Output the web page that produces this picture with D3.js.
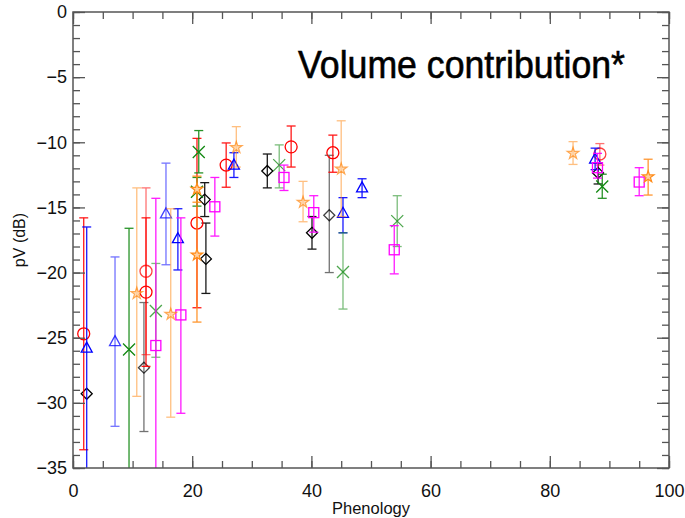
<!DOCTYPE html>
<html><head><meta charset="utf-8">
<script src="https://cdn.jsdelivr.net/npm/d3@7"></script>
<style>body{margin:0;background:#fff}svg{display:block}</style>
</head><body>
<svg id="chart" width="685" height="518"></svg>
<script>
// ---- data ----
const xDomain = [0, 100];
const yDomain = [-35, 0];
const xTicks = [0, 20, 40, 60, 80, 100];
const yTicks = [0, -5, -10, -15, -20, -25, -30, -35];
const titleText = "Volume contribution*";
const xLabel = "Phenology";
const yLabel = "pV (dB)";

// red circles
const redX  = [1.8, 12.25, 12.25, 20.8, 25.7, 36.6, 43.6, 88.4];
const redY  = [-24.7, -19.9, -21.5, -16.2, -11.75, -10.35, -10.8, -10.9];
const redLo = [-33.6, -26.3, -27.2, -22.7, -13.45, -11.9, -12.3, -11.75];
const redHi = [-15.8, -13.5, -15.8, -9.7, -10.05, -8.75, -9.45, -10.1];
const redG  = [1, 2, 1, 1, 1, 1, 1, 2];
// blue triangles
const blueX  = [2.3, 7.05, 15.6, 17.6, 27.0, 45.3, 48.5, 87.6];
const blueY  = [-25.8, -25.3, -15.5, -17.4, -11.75, -15.45, -13.5, -11.3];
const blueLo = [-40, -31.8, -19.4, -19.8, -12.7, -16.95, -14.25, -12.1];
const blueHi = [-16.5, -18.8, -11.6, -15.1, -10.8, -14.25, -12.8, -10.45];
const blueG  = [1, 2, 2, 1, 1, 1, 1, 1];
// green crosses
const greenX  = [9.4, 13.9, 21.1, 20.8, 34.6, 45.3, 54.4, 88.8];
const greenY  = [-25.9, -22.95, -10.75, -13.8, -11.75, -19.95, -16.05, -13.4];
const greenLo = [-40, -26.5, -12.35, -14.9, -13.5, -22.8, -18.0, -14.3];
const greenHi = [-16.6, -19.3, -9.1, -12.7, -10.2, -16.95, -14.1, -12.45];
const greenG  = [1, 2, 1, 1, 2, 2, 2, 1];
// black diamonds
const blackX  = [2.3, 11.9, 22.1, 22.3, 32.6, 40.1, 43.0, 88.1];
const blackY  = [-29.3, -27.3, -14.4, -18.95, -12.2, -16.95, -15.6, -12.35];
const blackLo = [-29.3, -32.2, -15.7, -21.6, -13.5, -18.2, -20.0, -13.2];
const blackHi = [-29.3, -22.3, -13.1, -16.2, -10.9, -15.7, -11.0, -11.6];
const blackG  = [1, 2, 1, 1, 1, 1, 2, 1];
// magenta squares
const magX  = [13.9, 18.1, 23.8, 35.4, 40.4, 53.9, 88.0, 95.0];
const magY  = [-25.6, -23.25, -14.95, -12.7, -15.4, -18.25, -11.95, -13.05];
const magLo = [-40, -30.8, -17.2, -13.7, -16.9, -20.1, -12.75, -14.1];
const magHi = [-14.3, -15.8, -12.7, -11.75, -14.1, -16.4, -10.85, -11.95];
const magG  = [1, 1, 1, 1, 1, 1, 1, 1];
// orange stars
const orX  = [10.7, 16.4, 20.8, 20.8, 27.4, 38.6, 45.0, 83.9, 96.5];
const orY  = [-21.6, -23.2, -13.6, -18.65, -10.4, -14.6, -12.05, -10.85, -12.65];
const orLo = [-29.5, -31.1, -14.6, -23.8, -11.9, -16.1, -15.7, -11.7, -14.05];
const orHi = [-13.5, -15.1, -12.6, -13.5, -8.8, -13.0, -8.35, -9.95, -11.3];
const orG  = [2, 2, 1, 1, 2, 2, 2, 2, 1];

// ---- layout ----
const W = 685, H = 518;
const m = {left: 73, right: 16, top: 12, bottom: 50};
const pw = W - m.left - m.right, ph = H - m.top - m.bottom;
const svg = d3.select("#chart");
const x = d3.scaleLinear().domain(xDomain).range([m.left, m.left + pw]);
const y = d3.scaleLinear().domain(yDomain).range([m.top + ph, m.top]);

const font = "'Liberation Sans', Arial, sans-serif";
const axisCol = "#555";

svg.append("defs").append("clipPath").attr("id", "clip")
  .append("rect").attr("x", m.left).attr("y", m.top).attr("width", pw).attr("height", ph);

const series = [
  {name: "black", color: "#000000", shape: "diamond", xs: blackX, ys: blackY, lo: blackLo, hi: blackHi, g: blackG},
  {name: "red", color: "#ff0000", shape: "circle", xs: redX, ys: redY, lo: redLo, hi: redHi, g: redG},
  {name: "blue", color: "#0000ff", shape: "triangle", xs: blueX, ys: blueY, lo: blueLo, hi: blueHi, g: blueG},
  {name: "green", color: "#118811", shape: "cross", xs: greenX, ys: greenY, lo: greenLo, hi: greenHi, g: greenG},
  {name: "magenta", color: "#ff00ff", shape: "square", xs: magX, ys: magY, lo: magLo, hi: magHi, g: magG},
  {name: "orange", color: "#ff8c1a", shape: "star", xs: orX, ys: orY, lo: orLo, hi: orHi, g: orG}
];

const plot = svg.append("g").attr("clip-path", "url(#clip)");
const cap = 4.5;

function marker(sel, shape, color) {
  if (shape === "circle") {
    sel.append("circle").attr("r", 6).attr("fill", "none").attr("stroke", color).attr("stroke-width", 1.3);
  } else if (shape === "triangle") {
    sel.append("path").attr("d", "M0,-6L5.5,4L-5.5,4Z").attr("fill", "none").attr("stroke", color).attr("stroke-width", 1.3);
  } else if (shape === "diamond") {
    sel.append("path").attr("d", "M0,-5.5L5.5,0L0,5.5L-5.5,0Z").attr("fill", "none").attr("stroke", color).attr("stroke-width", 1.3);
  } else if (shape === "square") {
    sel.append("rect").attr("x", -5).attr("y", -5).attr("width", 10).attr("height", 10).attr("fill", "none").attr("stroke", color).attr("stroke-width", 1.3);
  } else if (shape === "cross") {
    sel.append("path").attr("d", "M-6,-6L6,6M-6,6L6,-6").attr("fill", "none").attr("stroke", color).attr("stroke-width", 1.3);
  } else if (shape === "star") {
    sel.append("path").attr("d", d3.symbol().type(d3.symbolStar).size(42)())
      .attr("fill", "#ffd0a0").attr("stroke", color).attr("stroke-width", 1.2);
  }
}

series.forEach(s => {
  const pts = s.xs.map((v, i) => ({x: v, y: s.ys[i], lo: s.lo[i], hi: s.hi[i], g: s.g[i]}))
    .filter(d => d.lo !== d.hi);
  const all = s.xs.map((v, i) => ({x: v, y: s.ys[i], g: s.g[i]}));
  const gS = plot.append("g");
  const eb = gS.selectAll("g.eb").data(pts).enter().append("g")
    .attr("stroke", s.color).attr("stroke-width", 1.3)
    .attr("opacity", d => d.g === 2 ? 0.55 : 0.9);
  eb.append("line").attr("x1", d => x(d.x)).attr("x2", d => x(d.x)).attr("y1", d => y(d.lo)).attr("y2", d => y(d.hi));
  eb.append("line").attr("x1", d => x(d.x) - cap).attr("x2", d => x(d.x) + cap).attr("y1", d => y(d.lo)).attr("y2", d => y(d.lo));
  eb.append("line").attr("x1", d => x(d.x) - cap).attr("x2", d => x(d.x) + cap).attr("y1", d => y(d.hi)).attr("y2", d => y(d.hi));
  gS.selectAll("g.mk").data(all).enter().append("g")
    .attr("transform", d => `translate(${x(d.x)},${y(d.y)})`)
    .attr("opacity", d => d.g === 2 ? 0.75 : 1)
    .each(function() { marker(d3.select(this), s.shape, s.color); });
});

// ---- axes (ticks inward, mirrored) ----
const xMinor = d3.range(0, 101, 5);
const yMinor = d3.range(-35, 1, 1);
function styleAxis(g) {
  g.select(".domain").remove();
  g.selectAll("line").attr("stroke", axisCol).attr("stroke-width", 1.3);
  g.selectAll("text").attr("font-family", font).attr("font-size", 18).attr("fill", "#111");
}
// bottom
svg.append("g").attr("transform", `translate(0,${m.top + ph})`)
  .call(d3.axisBottom(x).tickValues(xMinor).tickSize(-7).tickFormat(""))
  .call(styleAxis);
svg.append("g").attr("transform", `translate(0,${m.top + ph})`)
  .call(d3.axisBottom(x).tickValues(xTicks).tickSize(-12).tickPadding(16).tickFormat(d3.format("d")))
  .call(styleAxis);
// top
svg.append("g").attr("transform", `translate(0,${m.top})`)
  .call(d3.axisTop(x).tickValues(xMinor).tickSize(-7).tickFormat(""))
  .call(styleAxis);
svg.append("g").attr("transform", `translate(0,${m.top})`)
  .call(d3.axisTop(x).tickValues(xTicks).tickSize(-12).tickFormat(""))
  .call(styleAxis);
// left
svg.append("g").attr("transform", `translate(${m.left},0)`)
  .call(d3.axisLeft(y).tickValues(yMinor).tickSize(-7).tickFormat(""))
  .call(styleAxis);
svg.append("g").attr("transform", `translate(${m.left},0)`)
  .call(d3.axisLeft(y).tickValues(yTicks).tickSize(-12).tickPadding(6).tickFormat(d => d === 0 ? "0" : "\u2212" + Math.abs(d)))
  .call(styleAxis);
// right
svg.append("g").attr("transform", `translate(${m.left + pw},0)`)
  .call(d3.axisRight(y).tickValues(yMinor).tickSize(-7).tickFormat(""))
  .call(styleAxis);
svg.append("g").attr("transform", `translate(${m.left + pw},0)`)
  .call(d3.axisRight(y).tickValues(yTicks).tickSize(-12).tickFormat(""))
  .call(styleAxis);

// frame
svg.append("rect").attr("x", m.left).attr("y", m.top).attr("width", pw).attr("height", ph)
  .attr("fill", "none").attr("stroke", axisCol).attr("stroke-width", 1.5);

// labels
svg.append("text").attr("x", m.left + pw / 2).attr("y", 514).attr("text-anchor", "middle")
  .attr("font-family", font).attr("font-size", 16.5).attr("fill", "#111").text(xLabel);
svg.append("text").attr("transform", `translate(25,${m.top + ph / 2}) rotate(-90)`).attr("text-anchor", "middle")
  .attr("font-family", font).attr("font-size", 16).attr("fill", "#111").text(yLabel);
svg.append("text").attr("x", 298).attr("y", 78)
  .attr("font-family", font).attr("font-size", 38).attr("fill", "#000")
  .attr("stroke", "#000").attr("stroke-width", 0.6)
  .attr("textLength", 327).attr("lengthAdjust", "spacingAndGlyphs").text(titleText);
</script>
</body></html>
